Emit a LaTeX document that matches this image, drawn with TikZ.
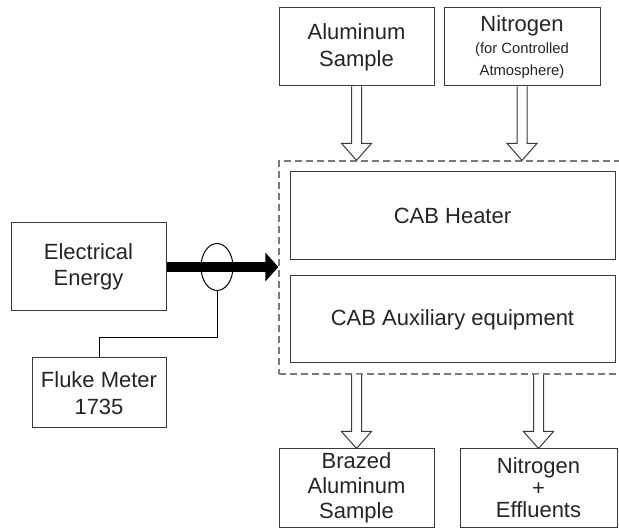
\documentclass[tikz,border=0pt]{standalone}
\usepackage{fontspec}
\setmainfont{Liberation Sans}
\usetikzlibrary{arrows.meta,calc,shapes.geometric}
\definecolor{linegray}{HTML}{3A3A3A}
\definecolor{dashgray}{HTML}{7A7A7A}
\definecolor{txtgray}{HTML}{252525}
\tikzset{
  box/.style={draw=linegray, line width=1pt, inner sep=0pt, align=center,
    text=txtgray, font=\fontsize{22}{26}\selectfont},
  hollow/.style={draw=linegray, line width=1pt, fill=white},
  thickarrow/.style={black, line width=10pt, -{Triangle[length=13pt,width=28pt]}},
  wire/.style={draw=black, line width=1pt}
}
\newcommand{\hdown}[2]{%
  \draw[hollow] let \p1=(#1), \p2=(#2) in
    (\x1-5pt,\y1) -- (\x1-5pt,\y2+17pt) -- (\x1-15pt,\y2+17pt) -- (\x1,\y2)
    -- (\x1+15pt,\y2+17pt) -- (\x1+5pt,\y2+17pt) -- (\x1+5pt,\y1);}
\begin{document}
\begin{tikzpicture}[x=1pt,y=-1pt]
\clip (0,0) rectangle (619,529);
\fill[white] (0,0) rectangle (619,529);

% dashed enclosure
\node[draw=dashgray, dash pattern=on 7pt off 4pt, line width=1.2pt,
      minimum width=345pt, minimum height=213pt, inner sep=0pt] (cab) at (451.5,267.5) {};

% top boxes
\node[box, minimum width=155pt, minimum height=78pt, font=\fontsize{22}{27}\selectfont] (alum) at (356.5,47) {Aluminum\\Sample};
\node[box, minimum width=156pt, minimum height=78pt,
      font=\fontsize{14.8}{22}\selectfont] (nitro) at (522,47)
      {{\fontsize{22}{22}\selectfont Nitrogen}\\(for Controlled\\Atmosphere)};

% inner boxes
\node[box, minimum width=325pt, minimum height=88pt] (heater) at (452.5,216) {CAB Heater};
\node[box, minimum width=325pt, minimum height=87pt] (aux) at (452.5,319.5) {CAB Auxiliary equipment};

% left boxes
\node[box, minimum width=155pt, minimum height=88pt] (elec) at (88.5,267) {Electrical\\Energy};
\node[box, minimum width=134pt, minimum height=70pt, font=\fontsize{22}{27}\selectfont] (fluke) at (99,393) {Fluke Meter\\1735};

% bottom boxes
\node[box, minimum width=155pt, minimum height=78pt, font=\fontsize{22}{25}\selectfont] (brazed) at (356.5,488) {Brazed\\Aluminum\\Sample};
\node[box, minimum width=157pt, minimum height=78pt, font=\fontsize{22}{22}\selectfont] (neff) at (538.5,488) {Nitrogen\\+\\Effluents};

% hollow arrows
\coordinate (t1) at (alum.south |- cab.north);
\coordinate (t2) at (nitro.south |- cab.north);
\hdown{alum.south}{t1}
\hdown{nitro.south}{t2}
\coordinate (b1s) at (brazed.north |- cab.south);
\coordinate (b2s) at (neff.north |- cab.south);
\hdown{b1s}{brazed.north}
\hdown{b2s}{neff.north}

% thick arrow with current clamp
\coordinate (tip) at (cab.west |- elec.east);
\draw[thickarrow] (elec.east) -- (tip);
\node[draw=black, line width=1pt, ellipse, minimum width=32pt, minimum height=47pt, inner sep=0pt] (ct) at (217,267) {};
\draw[wire] (ct.south) -- (ct.south |- 0,338) -| (fluke.north);
\end{tikzpicture}
\end{document}
